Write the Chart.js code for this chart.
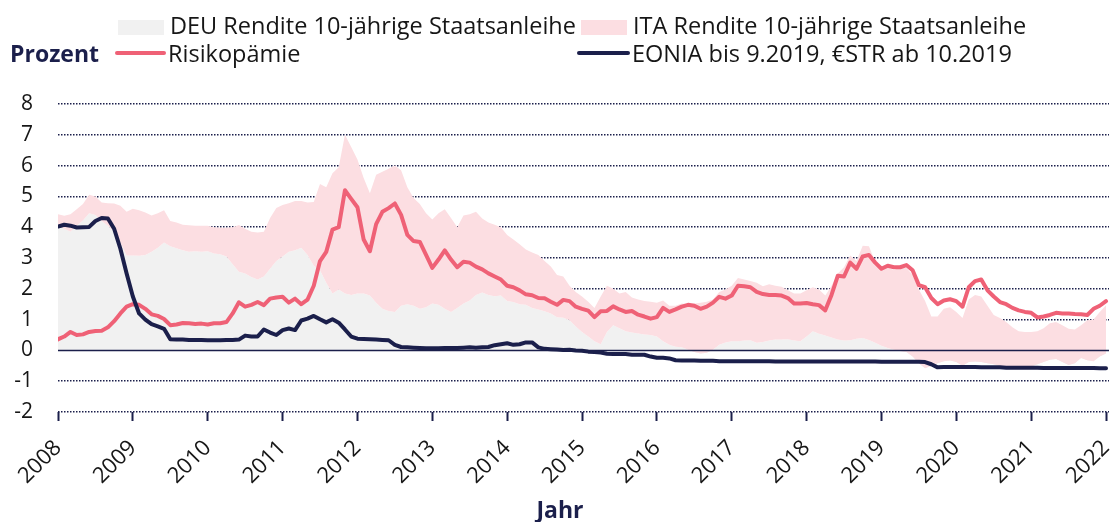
<!DOCTYPE html>
<html>
<head>
<meta charset="utf-8">
<script src="https://cdn.jsdelivr.net/npm/chart.js@4.4.1/dist/chart.umd.min.js"></script>
<style>
  html, body { margin: 0; padding: 0; background: #fff; }
  #wrap { position: relative; width: 1113px; height: 522px; }
</style>
</head>
<body>
<div id="wrap"><canvas id="chart" width="1113" height="522"></canvas></div>
<script>
// monthly values, Jan 2008 .. Jan 2022
const startYear = 2008;
const xTicks = [2008, 2009, 2010, 2011, 2012, 2013, 2014, 2015, 2016, 2017, 2018, 2019, 2020, 2021, 2022];
const yMin = -2, yMax = 8;

const seriesNames = [
  'DEU Rendite 10-jährige Staatsanleihe',
  'ITA Rendite 10-jährige Staatsanleihe',
  'Risikopämie',
  'EONIA bis 9.2019, €STR ab 10.2019'
];
const yTitle = 'Prozent';
const xTitle = 'Jahr';

const deu = [
  4.05, 3.95, 3.85, 4.05, 4.22, 4.45, 4.4, 4.2, 4.05, 3.85, 3.5, 3.08,
  3.08, 3.07, 3.1, 3.2, 3.33, 3.5, 3.38, 3.32, 3.25, 3.2, 3.22, 3.2,
  3.22, 3.15, 3.12, 3.05, 2.8, 2.55, 2.5, 2.38, 2.3, 2.4, 2.65, 2.9,
  3.05, 3.2, 3.25, 3.33, 3.1, 2.75, 2.6, 2.2, 1.85, 1.98, 1.85, 1.8,
  1.85, 1.85, 1.78, 1.55, 1.35, 1.28, 1.25, 1.45, 1.5, 1.45, 1.35, 1.4,
  1.52, 1.48, 1.35, 1.25, 1.38, 1.52, 1.62, 1.8, 1.88, 1.8, 1.76, 1.78,
  1.6, 1.57, 1.5, 1.48, 1.38, 1.33, 1.27, 1.2, 1.08, 1.06, 0.98, 0.78,
  0.6, 0.45, 0.3, 0.2, 0.6, 0.82, 0.72, 0.62, 0.58, 0.55, 0.52, 0.5,
  0.45, 0.3, 0.18, 0.12, 0.1, 0.02, -0.05, -0.1, -0.08, 0.02, 0.18, 0.26,
  0.3, 0.3, 0.32, 0.33, 0.25, 0.27, 0.32, 0.35, 0.35, 0.36, 0.32, 0.3,
  0.45, 0.62, 0.54, 0.48, 0.42, 0.35, 0.32, 0.33, 0.38, 0.4, 0.34, 0.25,
  0.15, 0.08, 0.02, -0.02, -0.05, -0.2, -0.42, -0.58, -0.5, -0.42, -0.35, -0.33,
  -0.38, -0.5, -0.38, -0.36, -0.38, -0.42, -0.45, -0.5, -0.55, -0.57, -0.58, -0.55,
  -0.52, -0.45, -0.38, -0.3, -0.28, -0.38, -0.47, -0.42, -0.25, -0.32, -0.35, -0.2,
  -0.1
];

const ita = [
  4.42, 4.37, 4.42, 4.58, 4.75, 5.05, 5.0, 4.8, 4.78, 4.77, 4.7, 4.5,
  4.6, 4.55, 4.48, 4.38, 4.45, 4.55, 4.2, 4.15, 4.08, 4.06, 4.05, 4.05,
  4.05, 4.0, 3.98, 3.98, 4.0, 4.07, 3.95, 3.85, 3.83, 3.85, 4.3, 4.62,
  4.72, 4.78, 4.85, 4.85, 4.8, 4.82, 5.4, 5.3, 5.75, 5.95, 7.0, 6.6,
  6.2, 5.6, 5.1, 5.7, 5.8, 5.9, 6.0, 5.85, 5.3, 4.95, 4.75, 4.45,
  4.25, 4.45, 4.58, 4.3, 4.0, 4.38, 4.42, 4.5, 4.28, 4.15, 4.08, 4.0,
  3.75, 3.6, 3.45, 3.28, 3.18, 3.1, 2.9, 2.72, 2.45, 2.4, 2.1, 1.9,
  1.75, 1.58, 1.38, 1.75, 2.1, 2.0, 1.85, 1.9, 1.72, 1.65, 1.6, 1.58,
  1.55, 1.62, 1.45, 1.45, 1.52, 1.5, 1.52, 1.55, 1.58, 1.65, 1.9, 1.98,
  2.1, 2.35, 2.3, 2.25, 2.2, 2.08, 2.15, 2.1, 2.07, 1.95, 1.85, 1.85,
  1.95, 2.05, 1.98, 1.78, 2.1, 2.5, 2.7, 3.08, 2.9, 3.4, 3.38, 2.88,
  2.65, 2.7, 2.6, 2.7, 2.68, 2.45, 1.98, 1.6, 1.1, 1.1, 1.35, 1.4,
  1.25, 1.05, 1.65, 1.8, 1.75, 1.45, 1.15, 1.05, 0.92, 0.75, 0.62, 0.6,
  0.6, 0.62, 0.72, 0.88, 0.92, 0.82, 0.7, 0.68, 0.82, 0.98, 1.0, 1.25,
  1.47
];

const spread = [
  0.36, 0.45, 0.6, 0.5, 0.52, 0.6, 0.63, 0.64, 0.75, 0.95, 1.2, 1.42,
  1.5, 1.48, 1.35, 1.17, 1.12, 1.02, 0.82, 0.84, 0.89, 0.88, 0.86, 0.87,
  0.84, 0.88, 0.88, 0.92, 1.2, 1.56, 1.42, 1.48, 1.57, 1.47, 1.68, 1.72,
  1.74, 1.55, 1.68, 1.5, 1.65, 2.1, 2.9, 3.2, 3.92, 4.0, 5.2, 4.92,
  4.65, 3.6, 3.22, 4.1, 4.5, 4.62, 4.77, 4.4, 3.75, 3.55, 3.52, 3.1,
  2.68, 2.95, 3.25, 2.95, 2.7, 2.88, 2.85, 2.72, 2.63, 2.5, 2.4, 2.3,
  2.1, 2.05, 1.95, 1.82, 1.79, 1.7, 1.69, 1.58, 1.48, 1.64, 1.6, 1.42,
  1.35, 1.29, 1.08, 1.27, 1.28, 1.43, 1.33, 1.25, 1.28, 1.16, 1.1, 1.03,
  1.08, 1.38, 1.25, 1.33, 1.42, 1.48, 1.45, 1.35, 1.42, 1.55, 1.74, 1.68,
  1.78, 2.1, 2.08, 2.05, 1.9, 1.83, 1.8, 1.8, 1.78, 1.7, 1.52, 1.52,
  1.54, 1.5, 1.47, 1.3, 1.8, 2.42, 2.4, 2.85, 2.65, 3.05, 3.1, 2.85,
  2.65, 2.75, 2.7, 2.7, 2.77, 2.6, 2.12, 2.05, 1.7, 1.5, 1.62, 1.66,
  1.6, 1.42, 2.05, 2.25, 2.3, 1.95, 1.75, 1.57, 1.5, 1.38, 1.3, 1.25,
  1.22, 1.07, 1.1, 1.15, 1.22, 1.2, 1.2, 1.18, 1.17, 1.15, 1.35, 1.45,
  1.6
];

const eonia = [
  4.02, 4.08, 4.05, 3.99, 4.0, 4.01, 4.2, 4.3, 4.28, 3.95, 3.3, 2.5,
  1.75, 1.2, 1.0, 0.85, 0.78, 0.7, 0.36, 0.35, 0.35, 0.34, 0.34, 0.34,
  0.33, 0.33, 0.33, 0.34, 0.34, 0.35, 0.48, 0.45, 0.45, 0.68, 0.58, 0.5,
  0.66, 0.71, 0.66, 0.97, 1.03, 1.12, 1.01, 0.91, 1.01, 0.9, 0.68, 0.45,
  0.38, 0.37, 0.36, 0.35, 0.34, 0.33, 0.18, 0.11, 0.1, 0.09, 0.08, 0.07,
  0.07, 0.07, 0.08, 0.08, 0.08, 0.09, 0.1, 0.09, 0.1, 0.11, 0.17, 0.2,
  0.23, 0.18, 0.2, 0.26, 0.26, 0.1, 0.05, 0.04, 0.03, 0.01, 0.02, 0.0,
  -0.01, -0.04, -0.05, -0.07, -0.11, -0.12, -0.12, -0.12, -0.14, -0.14, -0.14, -0.2,
  -0.24, -0.24, -0.26, -0.32, -0.33, -0.33, -0.33, -0.34, -0.34, -0.34, -0.35, -0.35,
  -0.35, -0.35, -0.35, -0.35, -0.35, -0.35, -0.35, -0.36, -0.36, -0.36, -0.36, -0.36,
  -0.36, -0.36, -0.36, -0.36, -0.36, -0.36, -0.36, -0.36, -0.36, -0.36, -0.36, -0.36,
  -0.37, -0.37, -0.37, -0.37, -0.37, -0.37, -0.37, -0.38, -0.45, -0.55, -0.54, -0.54,
  -0.54, -0.54, -0.54, -0.54, -0.55, -0.55, -0.55, -0.55, -0.56, -0.56, -0.56, -0.56,
  -0.56, -0.56, -0.57, -0.57, -0.57, -0.57, -0.57, -0.57, -0.57, -0.57, -0.57, -0.58,
  -0.58
];

const NAVY = '#1b1f4b';
const RED = '#ef6176';
const PINK = '#fcdee2';
const GREY = '#f1f1f1';
const TEXT = '#161616';
const FONT = '"Open Sans", "Noto Sans", sans-serif';

const months = deu.map((_, i) => startYear + i / 12);
const pts = arr => arr.map((v, i) => ({ x: months[i], y: v }));
const xEnd = 2022.04;

// legend + axis titles drawn above the plot
const headerPlugin = {
  id: 'header',
  afterDraw(chart) {
    const c = chart.ctx;
    c.save();
    c.fillStyle = GREY;
    c.fillRect(118, 20, 46, 15);
    c.fillStyle = PINK;
    c.fillRect(581, 20, 46, 15);

    c.lineWidth = 4;
    c.lineCap = 'round';
    c.strokeStyle = RED;
    c.beginPath(); c.moveTo(117, 53); c.lineTo(164, 53); c.stroke();
    c.strokeStyle = NAVY;
    c.beginPath(); c.moveTo(579, 53); c.lineTo(628, 53); c.stroke();

    c.textBaseline = 'alphabetic';
    c.fillStyle = TEXT;
    c.font = '23.5px ' + FONT;
    c.textAlign = 'left';
    c.fillText(seriesNames[0], 170, 34);
    c.fillText(seriesNames[1], 633, 34);
    c.fillText(seriesNames[2], 168, 62);
    c.fillText(seriesNames[3], 632, 62);

    c.fillStyle = NAVY;
    c.font = 'bold 23px ' + FONT;
    c.fillText(yTitle, 10, 62);
    c.textAlign = 'center';
    c.fillText(xTitle, 560, 518);
    c.restore();
  }
};

new Chart(document.getElementById('chart'), {
  type: 'line',
  data: {
    datasets: [
      {
        label: seriesNames[0],
        data: pts(deu),
        borderWidth: 0,
        pointRadius: 0,
        backgroundColor: GREY,
        fill: 'origin',
        order: 5
      },
      {
        label: seriesNames[1],
        data: pts(ita),
        borderWidth: 0,
        pointRadius: 0,
        backgroundColor: PINK,
        fill: 0,
        order: 4
      },
      {
        label: 'zero',
        data: [{ x: startYear, y: 0 }, { x: xEnd, y: 0 }],
        borderColor: NAVY,
        borderWidth: 1.5,
        pointRadius: 0,
        fill: false,
        order: 3
      },
      {
        label: seriesNames[2],
        data: pts(spread),
        borderColor: RED,
        borderWidth: 4,
        borderJoinStyle: 'round',
        borderCapStyle: 'round',
        pointRadius: 0,
        fill: false,
        order: 2
      },
      {
        label: seriesNames[3],
        data: pts(eonia),
        borderColor: NAVY,
        borderWidth: 4,
        borderJoinStyle: 'round',
        borderCapStyle: 'round',
        pointRadius: 0,
        fill: false,
        order: 1
      }
    ]
  },
  options: {
    responsive: false,
    animation: false,
    layout: { padding: { top: 104, left: 0, right: 4, bottom: 0 } },
    plugins: {
      legend: { display: false },
      tooltip: { enabled: false }
    },
    scales: {
      x: {
        type: 'linear',
        min: startYear,
        max: xEnd,
        afterBuildTicks: (s) => { s.ticks = xTicks.map(v => ({ value: v })); },
        afterFit: (s) => { s.height = 110; s.paddingLeft = 0; s.paddingRight = 0; },
        ticks: {
          autoSkip: false,
          maxRotation: 45,
          minRotation: 45,
          padding: 14,
          color: TEXT,
          font: { family: FONT, size: 22 },
          callback: (v) => String(v)
        },
        grid: {
          drawOnChartArea: false,
          drawTicks: true,
          tickLength: 9,
          tickWidth: 2,
          tickColor: NAVY
        },
        border: { display: false }
      },
      y: {
        min: yMin,
        max: yMax,
        afterFit: (s) => { s.width = 58; },
        ticks: {
          stepSize: 1,
          padding: 25,
          color: TEXT,
          font: { family: FONT, size: 21 }
        },
        grid: {
          drawTicks: false,
          color: NAVY,
          lineWidth: (ctx) => (ctx.tick && ctx.tick.value === 0 ? 0 : 1.5)
        },
        border: { display: false, dash: [1.5, 1.5] }
      }
    }
  },
  plugins: [headerPlugin]
});
</script>
</body>
</html>
